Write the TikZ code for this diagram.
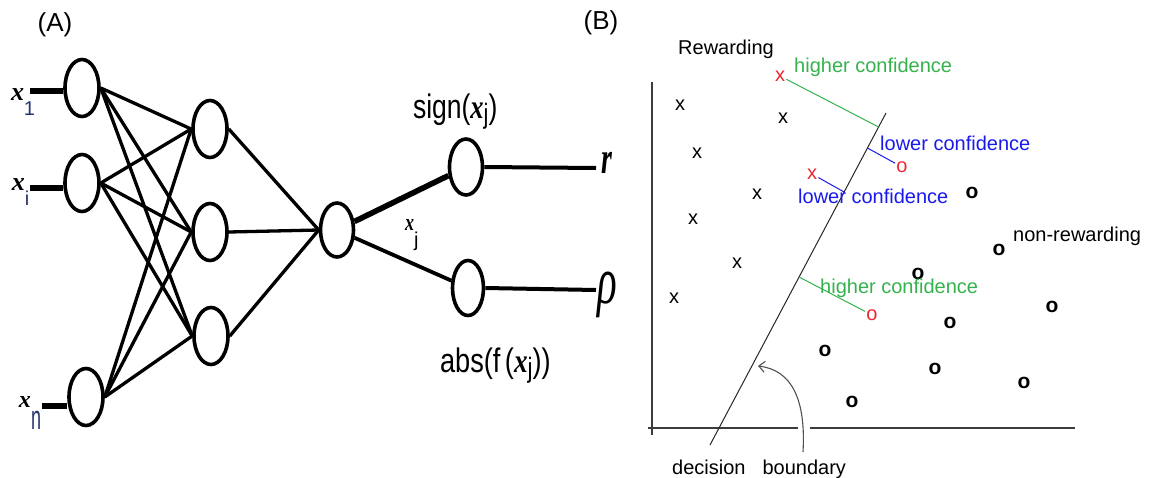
\documentclass[tikz,border=0pt]{standalone}
\usepackage{fontspec}
\setmainfont{Liberation Sans}
\setsansfont{Liberation Sans}
\newfontfamily\tms{Liberation Serif}
\usepackage{graphicx}
\usetikzlibrary{shapes.geometric,arrows.meta}
\definecolor{cgreen}{RGB}{52,178,76}
\definecolor{cblue}{RGB}{25,25,235}
\definecolor{cred}{RGB}{235,40,50}
\definecolor{csub}{RGB}{40,50,110}
\definecolor{caxis}{RGB}{60,60,60}
\definecolor{carrow}{RGB}{80,80,80}
\tikzset{
  neuron/.style={ellipse, draw, line width=3.6pt, minimum width=34pt, minimum height=57pt, inner sep=0pt},
  wire/.style={line width=3.3pt},
  thickwire/.style={line width=5.2pt},
  lab/.style={inner sep=0pt, outer sep=0pt},
  btxt/.style={inner sep=0pt, anchor=base west, font=\fontsize{20}{24}\selectfont},
  ptx/.style={inner sep=1.2pt, font=\fontsize{20}{24}\selectfont},
  pto/.style={inner sep=1.2pt, font=\fontsize{21}{24}\selectfont\bfseries},
  conf/.style={line width=1pt},
  axisline/.style={line width=1.3pt, color=caxis},
  bline/.style={line width=1pt, color=black!85},
}
\begin{document}
\begin{tikzpicture}[x=1pt,y=-1pt]
\useasboundingbox (0,0) rectangle (1149,477);

% ---------------- panel labels
\node[lab, font=\fontsize{26}{30}\selectfont] (pa) at (55,25) {(A)};
\node[lab, font=\fontsize{26}{30}\selectfont] (pb) at (601,23) {(B)};

% ---------------- panel A: network
\node[neuron] (n1) at (82,88) {};
\node[neuron] (n2) at (82,183) {};
\node[neuron] (n3) at (86,397) {};
\node[neuron] (h1) at (210,129) {};
\node[neuron] (h2) at (210,232) {};
\node[neuron] (h3) at (211,336) {};
\node[neuron, minimum width=33pt, minimum height=54pt] (m) at (337,230) {};
\node[neuron, minimum width=33pt, minimum height=56pt] (s) at (466,167) {};
\node[neuron, minimum width=31pt, minimum height=55pt] (a) at (468,288) {};

% inputs
\coordinate (i1) at (30,91);
\coordinate (i2) at (30,188);
\coordinate (i3) at (42,406);
\draw[thickwire] (i1) -- (i1 -| n1.west);
\draw[thickwire] (i2) -- (i2 -| n2.west);
\draw[thickwire] (i3) -- (i3 -| n3.west);

% input -> hidden (fully connected)
\foreach \u in {n1,n2,n3}
  \foreach \v in {h1,h2,h3}
    \draw[wire] (\u.east) -- (\v.west);

% hidden -> middle
\foreach \v in {h1,h2,h3}
  \draw[wire] (\v.east) -- (m.west);

% middle -> outputs
\draw[line width=5.6pt] (m) -- (s);
\draw[line width=3.8pt] (m) -- (a);

% outputs
\coordinate (o1) at (596,168);
\coordinate (o2) at (596,290);
\draw[line width=4pt] (s.east) -- (o1);
\draw[line width=4pt] (a.east) -- (o2);

% input labels
\node[lab, anchor=base west] (l1) at (11,100) {\fontsize{26}{26}\selectfont\tms\bfseries\itshape x\raisebox{-15pt}{\fontsize{20}{20}\selectfont\sffamily\mdseries\upshape\color{csub}1}};
\node[lab, anchor=base west] (l2) at (12,190) {\fontsize{26}{26}\selectfont\tms\bfseries\itshape x\raisebox{-15pt}{\fontsize{20}{20}\selectfont\sffamily\mdseries\upshape\color{csub}i}};
\node[lab, anchor=base west] (l3) at (19,407) {\fontsize{24}{24}\selectfont\tms\bfseries\itshape x\raisebox{-22pt}{\scalebox{0.9}[1.7]{\fontsize{20}{20}\selectfont\sffamily\mdseries\upshape\color{csub}n}}};

% x_j label on the wire
\node[lab, anchor=base west] (lj) at (405,230) {\scalebox{0.75}[1]{\fontsize{24}{24}\selectfont\tms\bfseries\itshape x}\raisebox{-16pt}{\fontsize{20}{20}\selectfont j}};

% function labels
\node[lab, anchor=base west] (ls) at (413,118) {\scalebox{0.78}[1]{\fontsize{34}{34}\selectfont sign({\tms\bfseries\itshape x}\raisebox{-5pt}{\fontsize{28}{28}\selectfont j})}};
\node[lab, anchor=base west] (la) at (440,372) {\scalebox{0.8}[1]{\fontsize{34}{34}\selectfont abs(f\,({\tms\bfseries\itshape x}\raisebox{-5pt}{\fontsize{28}{28}\selectfont j}))}};

% output symbols
\node[lab, anchor=base west] (lr) at (601,173) {\scalebox{0.62}[1]{\fontsize{45}{45}\selectfont\tms\bfseries\itshape r}};
\node[lab, anchor=base west] (lrho) at (597,303) {\scalebox{0.64}[1.05]{\fontsize{64}{64}\selectfont\tms\itshape ρ}};

% ---------------- panel B: classifier
% axes
\coordinate (va) at (652,82);
\coordinate (vb) at (652,435);
\coordinate (ha) at (648,428);
\coordinate (hg1) at (798,428);
\coordinate (hg2) at (810,428);
\coordinate (hb) at (1075,428);
\draw[axisline] (va) -- (vb);
\draw[axisline] (ha) -- (hg1);
\draw[axisline] (hg2) -- (hb);

% decision boundary
\coordinate (d0) at (710,445);
\coordinate (d1) at (886,113);
\draw[bline] (d0) -- (d1);

% rewarding points
\node[ptx] (x1) at (680,105) {x};
\node[ptx] (x2) at (783,118) {x};
\node[ptx] (x3) at (697,153) {x};
\node[ptx] (x4) at (757,194) {x};
\node[ptx] (x5) at (693,219) {x};
\node[ptx] (x6) at (737,263) {x};
\node[ptx] (x7) at (674,298) {x};
\node[ptx, text=cred] (rx1) at (780,76) {x};
\node[ptx, text=cred] (rx2) at (812,174) {x};

% non-rewarding points
\node[pto] (o1p) at (972,193) {o};
\node[pto] (o2p) at (999,250) {o};
\node[pto] (o3p) at (918,274) {o};
\node[pto] (o4p) at (1052,307) {o};
\node[pto] (o5p) at (950,323) {o};
\node[pto] (o6p) at (825,351) {o};
\node[pto] (o7p) at (935,369) {o};
\node[pto] (o8p) at (1024,383) {o};
\node[pto] (o9p) at (852,402) {o};
\node[ptx, text=cred] (ro1) at (902,167) {o};
\node[ptx, text=cred] (ro2) at (872,315) {o};

% distances to the boundary
\coordinate (b1) at (878.6,127);
\coordinate (b2) at (867.4,148);
\coordinate (b3) at (844.1,192);
\coordinate (b4) at (799,277);
\draw[conf, cgreen] (rx1) -- (b1);
\draw[conf, cblue] (ro1) -- (b2);
\draw[conf, cblue] (rx2) -- (b3);
\draw[conf, cgreen] (ro2) -- (b4);

% texts
\node[btxt] (tRew) at (678,54) {Rewarding};
\node[btxt, text=cgreen] (tH1) at (794,72) {higher confidence};
\node[btxt, text=cblue] (tL1) at (880,150) {lower confidence};
\node[btxt, text=cblue] (tL2) at (798,203) {lower confidence};
\node[btxt] (tNon) at (1013,241) {non-rewarding};
\node[btxt, text=cgreen] (tH2) at (820,293) {higher confidence};
\node[btxt] (tDec) at (672,474) {decision\hspace{17pt}boundary};

% arrow to the boundary
\coordinate (arrS) at (803,452);
\coordinate (arrE) at (758,366);
\draw[line width=1.1pt, color=carrow, -{Straight Barb[length=6pt,width=11pt]}] (arrS) .. controls (806,400) and (792,370) .. (arrE);
\end{tikzpicture}
\end{document}
